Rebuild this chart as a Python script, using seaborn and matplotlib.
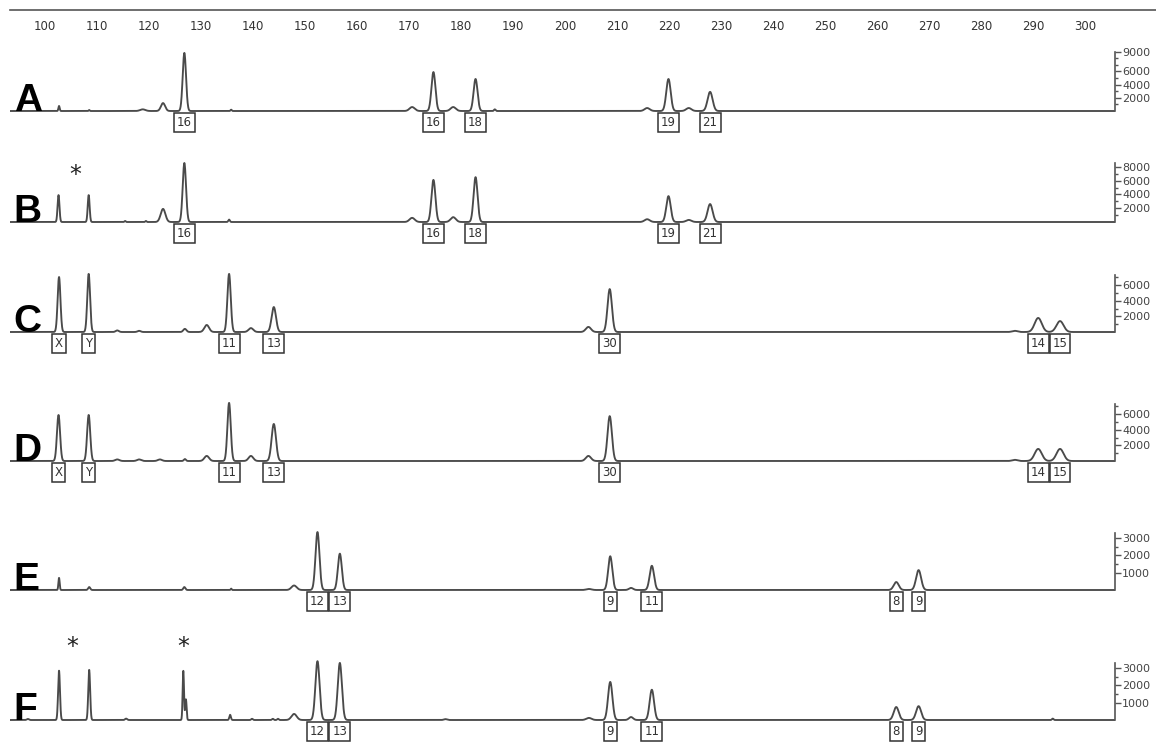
import numpy as np
import pandas as pd
import matplotlib
matplotlib.use("Agg")
import matplotlib.pyplot as plt
import seaborn as sns

# fragment sizes (bp), peak heights (RFU) and widths (bp)
A_sizes = [102.7, 108.5, 118.8, 122.7, 126.8, 135.8, 170.6, 174.7, 178.5, 182.8, 186.5, 215.8, 219.9, 223.8, 227.9]
A_heights = [760, 150, 250, 1200, 8800, 200, 600, 5900, 600, 4850, 250, 450, 4850, 450, 2900]
A_widths = [0.12, 0.1, 0.5, 0.4, 0.32, 0.12, 0.5, 0.38, 0.5, 0.38, 0.15, 0.5, 0.42, 0.5, 0.48]

B_sizes = [102.6, 108.4, 115.4, 119.4, 122.7, 126.8, 135.4, 170.6, 174.7, 178.5, 182.8, 215.8, 219.9, 223.8, 227.9]
B_heights = [3900, 3900, 150, 150, 1900, 8550, 350, 600, 6100, 700, 6500, 400, 3750, 300, 2600]
B_widths = [0.18, 0.18, 0.12, 0.12, 0.45, 0.32, 0.15, 0.5, 0.38, 0.5, 0.38, 0.5, 0.42, 0.5, 0.48]

C_sizes = [102.7, 108.4, 113.9, 118.1, 126.9, 131.1, 135.4, 139.6, 144.0, 204.5, 208.6, 286.5, 291.0, 295.2]
C_heights = [7050, 7450, 200, 150, 400, 900, 7450, 500, 3200, 650, 5500, 150, 1800, 1400]
C_widths = [0.27, 0.27, 0.3, 0.3, 0.3, 0.45, 0.32, 0.45, 0.42, 0.5, 0.42, 0.5, 0.68, 0.68]

D_sizes = [102.6, 108.4, 113.9, 118.1, 122.1, 126.9, 131.1, 135.4, 139.6, 144.0, 204.5, 208.6, 286.5, 291.0, 295.2]
D_heights = [5900, 5900, 200, 200, 200, 250, 650, 7450, 650, 4750, 650, 5750, 150, 1550, 1550]
D_widths = [0.3, 0.3, 0.4, 0.4, 0.4, 0.2, 0.45, 0.32, 0.45, 0.42, 0.5, 0.42, 0.5, 0.68, 0.68]

E_sizes = [102.7, 108.5, 126.8, 135.8, 147.9, 152.4, 156.7, 204.6, 208.7, 212.7, 216.7, 263.7, 268.0]
E_heights = [700, 170, 170, 80, 260, 3350, 2100, 60, 1950, 120, 1400, 460, 1150]
E_widths = [0.12, 0.2, 0.2, 0.1, 0.5, 0.38, 0.38, 0.5, 0.4, 0.4, 0.42, 0.48, 0.48]

F_sizes = [96.7, 102.7, 108.5, 115.6, 126.6, 127.1, 135.6, 139.8, 143.8, 144.8, 147.9, 152.4, 156.7, 177.0,
           204.6, 208.7, 212.7, 216.7, 263.7, 268.0, 293.8]
F_heights = [60, 2850, 2900, 80, 2850, 1200, 300, 70, 70, 70, 350, 3400, 3300, 50,
             120, 2200, 170, 1750, 750, 800, 80]
F_widths = [0.2, 0.18, 0.18, 0.2, 0.13, 0.13, 0.15, 0.15, 0.15, 0.15, 0.5, 0.4, 0.4, 0.3,
            0.5, 0.42, 0.4, 0.42, 0.48, 0.48, 0.15]

# allele calls under the peaks
A_call_pos = [126.8, 174.7, 182.8, 219.9, 227.9]
A_call_txt = ['16', '16', '18', '19', '21']
B_call_pos = [126.8, 174.7, 182.8, 219.9, 227.9]
B_call_txt = ['16', '16', '18', '19', '21']
C_call_pos = [102.7, 108.4, 135.4, 144.0, 208.6, 291.0, 295.2]
C_call_txt = ['X', 'Y', '11', '13', '30', '14', '15']
D_call_pos = [102.6, 108.4, 135.4, 144.0, 208.6, 291.0, 295.2]
D_call_txt = ['X', 'Y', '11', '13', '30', '14', '15']
E_call_pos = [152.4, 156.7, 208.7, 216.7, 263.7, 268.0]
E_call_txt = ['12', '13', '9', '11', '8', '9']
F_call_pos = [152.4, 156.7, 208.7, 216.7, 263.7, 268.0]
F_call_txt = ['12', '13', '9', '11', '8', '9']

# y-axis ticks of each panel
A_ticks = [2000, 4000, 6000, 9000]
B_ticks = [2000, 4000, 6000, 8000]
C_ticks = [2000, 4000, 6000]
D_ticks = [2000, 4000, 6000]
E_ticks = [1000, 2000, 3000]
F_ticks = [1000, 2000, 3000]

# asterisks (size, height)
B_star_x, B_star_y = [105.8], [6800]
F_star_x, F_star_y = [105.2, 126.5], [4200, 4200]

ruler_major = list(range(100, 301, 10))
ruler_minor = list(range(94, 305, 2))

sns.set_style("white")
plt.rcParams['font.family'] = ['DejaVu Sans']

W, H = 1156, 742
fig = plt.figure(figsize=(W / 100, H / 100), dpi=100)

PX = 5.2           # pixels per bp
X0 = 93.27         # bp at left edge (pixel 10)
left_px, right_px = 10, 1115
line_col = '#4a4a4a'

# top size ruler
rax = fig.add_axes([left_px / W, (H - 10) / H, (W - left_px) / W, 1 / H])
rax.set_xlim(X0, X0 + (W - left_px) / PX)
rax.set_ylim(0, 1)
for s in ['top', 'left', 'right']:
    rax.spines[s].set_visible(False)
rax.spines['bottom'].set_color('#555555')
rax.spines['bottom'].set_linewidth(1.2)
rax.set_xticks(ruler_major)
rax.set_xticks(ruler_minor, minor=True)
rax.set_yticks([])
rax.tick_params(axis='x', which='major', direction='out', length=6, width=1, color='#555555',
                labelsize=8.5, labelcolor='#333333', pad=1.5)
rax.tick_params(axis='x', which='minor', direction='out', length=3.5, width=1, color='#555555')

xgrid = np.linspace(X0, X0 + (right_px - left_px) / PX, 8000)

panels = [
    ('A', 111, 6.6, 9000, A_sizes, A_heights, A_widths, A_call_pos, A_call_txt, A_ticks),
    ('B', 222, 6.9, 8500, B_sizes, B_heights, B_widths, B_call_pos, B_call_txt, B_ticks),
    ('C', 332, 7.8, 7300, C_sizes, C_heights, C_widths, C_call_pos, C_call_txt, C_ticks),
    ('D', 461, 7.8, 7300, D_sizes, D_heights, D_widths, D_call_pos, D_call_txt, D_ticks),
    ('E', 590, 17.3, 3300, E_sizes, E_heights, E_widths, E_call_pos, E_call_txt, E_ticks),
    ('F', 720, 17.3, 3300, F_sizes, F_heights, F_widths, F_call_pos, F_call_txt, F_ticks),
]

axes = {}
for name, base, scale, top, sizes, heights, widths, cpos, ctxt, ticks in panels:
    below, above = 4, 70
    ax = fig.add_axes([left_px / W, (H - base - below) / H,
                       (right_px - left_px) / W, (below + above) / H])
    axes[name] = ax
    rfu = np.zeros_like(xgrid)
    for s, h, w in zip(sizes, heights, widths):
        rfu += h * np.exp(-0.5 * ((xgrid - s) / w) ** 2)
    df = pd.DataFrame({'size': xgrid, 'rfu': rfu})
    sns.lineplot(data=df, x='size', y='rfu', ax=ax, color=line_col, linewidth=1.35, sort=False)
    ax.set_xlim(xgrid[0], xgrid[-1])
    ax.set_ylim(-below / scale * 1000, above / scale * 1000)
    ax.set_xlabel('')
    ax.set_ylabel('')
    ax.set_xticks([])
    for s in ['top', 'left', 'bottom']:
        ax.spines[s].set_visible(False)
    ax.spines['right'].set_bounds(0, top)
    ax.spines['right'].set_color('#555555')
    ax.spines['right'].set_linewidth(1.2)
    ax.yaxis.tick_right()
    ax.set_yticks(ticks)
    ax.set_yticks(list(range(1000, top + 1, 1000 if top > 4000 else 500)), minor=True)
    ax.tick_params(axis='y', which='major', direction='out', length=4, width=1, color='#555555',
                   labelsize=8, labelcolor='#444444', pad=1)
    ax.tick_params(axis='y', which='minor', direction='out', length=2, width=1, color='#555555')
    ax.patch.set_visible(False)

    # panel letter
    ax.text(94.0, 0, name, ha='left', va='baseline', fontsize=28, fontweight='bold',
            family=['Liberation Sans', 'DejaVu Sans'], color='black')
    # allele call boxes
    for p, t in zip(cpos, ctxt):
        ax.annotate(t, xy=(p, 0), xytext=(0, -8.5), textcoords='offset points',
                    ha='center', va='center', fontsize=8.5, color='#333333',
                    bbox=dict(boxstyle='square,pad=0.25', fc='white', ec='#333333', lw=1.1))

for x, y in zip(B_star_x, B_star_y):
    axes['B'].text(x, y, '*', ha='center', va='center', fontsize=17, color='#222222')
for x, y in zip(F_star_x, F_star_y):
    axes['F'].text(x, y, '*', ha='center', va='center', fontsize=17, color='#222222')

fig.savefig('out.png', dpi=100, facecolor='white')
